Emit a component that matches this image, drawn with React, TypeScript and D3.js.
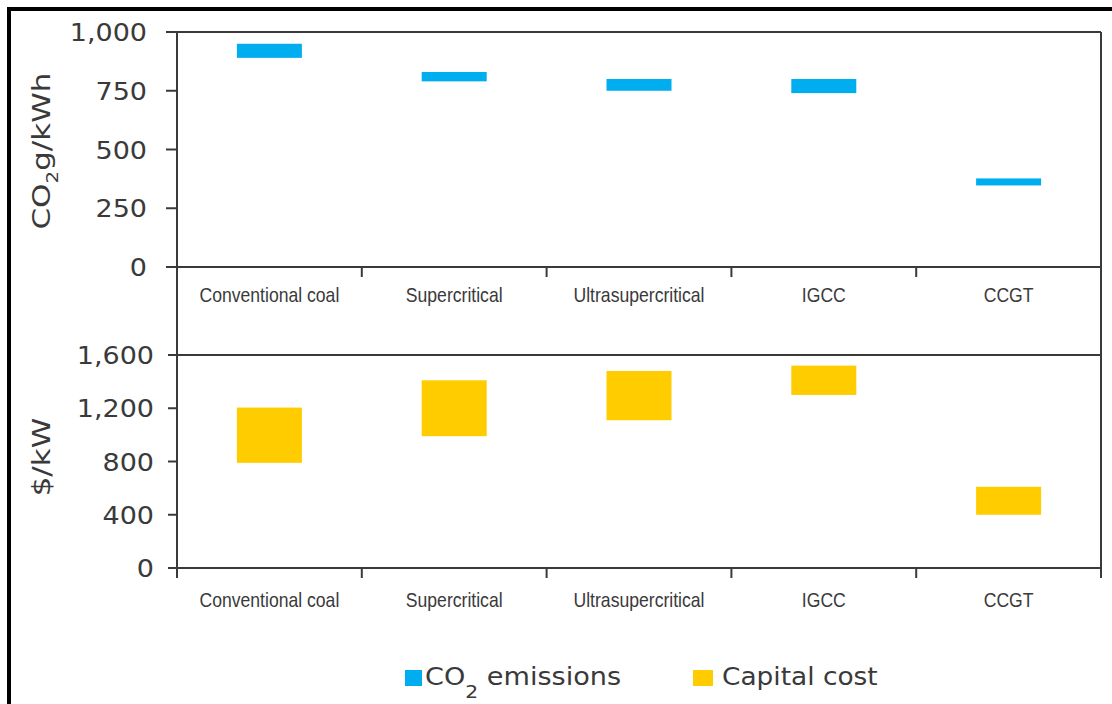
import React from "react";
import * as d3 from "d3";

const categories = ["Conventional coal", "Supercritical", "Ultrasupercritical", "IGCC", "CCGT"];
const co2Low = [890, 790, 750, 740, 347];
const co2High = [950, 830, 800, 800, 377];
const capLow = [790, 990, 1110, 1300, 400];
const capHigh = [1205, 1410, 1480, 1520, 610];
const co2Ticks = [0, 250, 500, 750, 1000];
const capTicks = [0, 400, 800, 1200, 1600];

const BLUE = "#00AEEF";
const YELLOW = "#FFCC00";
const LINE = "#3a3a3a";
const TEXT = "#3a3a3a";

export default function App() {
  const W = 1112, H = 704;
  const left = 177, right = 1101;
  const x = d3.scaleBand<string>().domain(categories).range([left, right]).paddingInner(0);
  const yTop = d3.scaleLinear().domain([0, 1000]).range([267, 32]);
  const yBot = d3.scaleLinear().domain([0, 1600]).range([568, 355]);
  const barW = 65;
  const fmt = d3.format(",");
  const boundaries = [left, ...categories.map((c) => (x(c) as number) + x.bandwidth())];

  const catLabel = (c: string, y: number, k: string) => (
    <text
      key={k}
      transform={`translate(${(x(c) as number) + x.bandwidth() / 2},${y}) scale(0.88,1)`}
      textAnchor="middle"
      fontFamily="'Liberation Sans', Arial, sans-serif"
      fontSize={20}
      fill={TEXT}
    >
      {c}
    </text>
  );

  return (
    <svg
      width={W}
      height={H}
      style={{ position: "absolute", left: 0, top: 0, background: "#fff" }}
    >
      <rect x={0} y={0} width={W} height={H} fill="#fff" />
      {/* outer border */}
      <line x1={7} x2={W} y1={9} y2={9} stroke="#000" strokeWidth={4} />
      <line x1={9} x2={9} y1={7} y2={H} stroke="#000" strokeWidth={4} />

      {/* top panel bars */}
      {categories.map((c, i) => (
        <rect
          key={"b" + i}
          x={(x(c) as number) + x.bandwidth() / 2 - barW / 2}
          y={yTop(co2High[i])}
          width={barW}
          height={yTop(co2Low[i]) - yTop(co2High[i])}
          fill={BLUE}
        />
      ))}
      {/* bottom panel bars */}
      {categories.map((c, i) => (
        <rect
          key={"y" + i}
          x={(x(c) as number) + x.bandwidth() / 2 - barW / 2}
          y={yBot(capHigh[i])}
          width={barW}
          height={yBot(capLow[i]) - yBot(capHigh[i])}
          fill={YELLOW}
        />
      ))}

      {/* frame lines */}
      <line x1={left} x2={left} y1={yTop(1000)} y2={578} stroke={LINE} strokeWidth={2} />
      <line x1={right} x2={right} y1={yTop(1000)} y2={578} stroke={LINE} strokeWidth={2} />
      <line x1={left} x2={right} y1={yTop(0)} y2={yTop(0)} stroke={LINE} strokeWidth={2} />
      <line x1={left} x2={right} y1={yTop(1000)} y2={yTop(1000)} stroke={LINE} strokeWidth={2} />
      <line x1={left} x2={right} y1={yBot(1600)} y2={yBot(1600)} stroke={LINE} strokeWidth={2} />
      <line x1={left} x2={right} y1={yBot(0)} y2={yBot(0)} stroke={LINE} strokeWidth={2} />

      {/* top y ticks */}
      {co2Ticks.map((t) => (
        <g key={"tt" + t}>
          <line x1={166} x2={left} y1={yTop(t)} y2={yTop(t)} stroke={LINE} strokeWidth={2} />
          <text
            transform={`translate(147,${yTop(t)}) scale(1.08,1)`}
            dy="0.36em"
            textAnchor="end"
            fontFamily="'DejaVu Sans', sans-serif"
            fontSize={25}
            fill={TEXT}
          >
            {fmt(t)}
          </text>
        </g>
      ))}
      {/* bottom y ticks */}
      {capTicks.map((t) => (
        <g key={"bt" + t}>
          <line x1={168} x2={left} y1={yBot(t)} y2={yBot(t)} stroke={LINE} strokeWidth={2} />
          <text
            transform={`translate(154,${yBot(t)}) scale(1.08,1)`}
            dy="0.36em"
            textAnchor="end"
            fontFamily="'DejaVu Sans', sans-serif"
            fontSize={25}
            fill={TEXT}
          >
            {fmt(t)}
          </text>
        </g>
      ))}

      {/* x ticks */}
      {boundaries.slice(1, -1).map((b, i) => (
        <line key={"xt" + i} x1={b} x2={b} y1={yTop(0)} y2={yTop(0) + 10} stroke={LINE} strokeWidth={2} />
      ))}
      {boundaries.map((b, i) => (
        <line key={"xb" + i} x1={b} x2={b} y1={yBot(0)} y2={yBot(0) + 10} stroke={LINE} strokeWidth={2} />
      ))}

      {/* category labels */}
      {categories.map((c, i) => catLabel(c, 302, "ct" + i))}
      {categories.map((c, i) => catLabel(c, 607, "cb" + i))}

      {/* axis titles */}
      <text
        transform={`translate(50,151) rotate(-90) scale(1.24,1)`}
        textAnchor="middle"
        fontFamily="'DejaVu Sans', sans-serif"
        fontSize={25}
        fill={TEXT}
      >
        CO<tspan fontSize={16} dy={8}>2</tspan>
        <tspan dy={-8}>g/kWh</tspan>
      </text>
      <text
        transform={`translate(50,457) rotate(-90) scale(1.24,1)`}
        textAnchor="middle"
        fontFamily="'DejaVu Sans', sans-serif"
        fontSize={25}
        fill={TEXT}
      >
        $/kW
      </text>

      {/* legend */}
      <rect x={405} y={670} width={17} height={16} fill={BLUE} />
      <text
        transform="translate(425,685) scale(1.13,1)"
        fontFamily="'DejaVu Sans', sans-serif"
        fontSize={24}
        fill={TEXT}
      >
        CO<tspan fontSize={18} dy={13}>2</tspan>
        <tspan dy={-13}> emissions</tspan>
      </text>
      <rect x={693} y={670} width={20} height={16} fill={YELLOW} />
      <text
        transform="translate(722,685) scale(1.1,1)"
        fontFamily="'DejaVu Sans', sans-serif"
        fontSize={24}
        fill={TEXT}
      >
        Capital cost
      </text>
    </svg>
  );
}
